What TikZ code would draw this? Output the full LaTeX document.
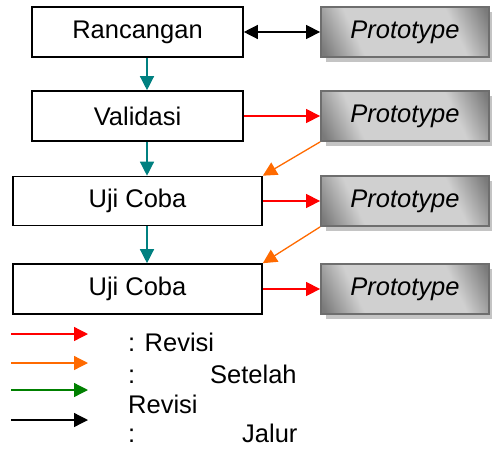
\documentclass[tikz,border=0pt]{standalone}
\usepackage{fontspec}
\setmainfont{Liberation Sans}
\usetikzlibrary{arrows.meta,shadows,calc}
\definecolor{flowteal}{HTML}{008080}
\definecolor{revred}{HTML}{FF0000}
\definecolor{revorange}{HTML}{FF6A00}
\definecolor{revgreen}{HTML}{008000}
\definecolor{protoedge}{HTML}{6E6E6E}
\definecolor{protodark}{HTML}{7A7A7A}
\definecolor{protolight}{HTML}{D0D0D0}
\definecolor{protoshadow}{HTML}{C4C4C4}
% metallic band: dark ends, wide light middle (220bp across)
\pgfdeclarehorizontalshading{protoshade}{220bp}{%
  color(0bp)=(protodark); color(28bp)=(protodark);
  color(64bp)=(protolight); color(156bp)=(protolight);
  color(192bp)=(protodark); color(220bp)=(protodark)}
\tikzset{
  stage/.style={draw=black, line width=1.6pt, fill=white, inner sep=0pt,
    font=\fontsize{25.5}{30}\selectfont},
  proto/.style={draw=protoedge, line width=1.8pt, inner sep=0pt,
    minimum width=168pt, minimum height=50pt,
    path picture={\node[inner sep=0pt, rotate=25]
      at (path picture bounding box.center) {\pgfuseshading{protoshade}};},
    drop shadow={shadow xshift=5pt, shadow yshift=-5pt, fill=protoshadow, opacity=1},
    font=\fontsize{25.5}{30}\selectfont\itshape},
  link/.style={line width=1.3pt, -{Triangle[length=14pt,width=14pt]}},
  legendtext/.style={anchor=base west, inner sep=0pt,
    font=\fontsize{25.5}{30}\selectfont}
}
\begin{document}
\begin{tikzpicture}[x=1pt,y=-1pt]
  \useasboundingbox (0,0) rectangle (492,450);

  % process stages
  \node[stage, minimum width=211pt, minimum height=50pt] (ran) at (137.5,32) {Rancangan};
  \node[stage, minimum width=211pt, minimum height=50pt] (val) at (137.5,116) {Validasi};
  \node[stage, minimum width=249pt, minimum height=49pt] (uji1) at (137.5,201) {Uji Coba};
  \node[stage, minimum width=249pt, minimum height=50pt] (uji2) at (137.5,289) {Uji Coba};

  % prototypes
  \node[proto] (p1) at (405,32) {Prototype};
  \node[proto] (p2) at (405,116) {Prototype};
  \node[proto] (p3) at (405,201) {Prototype};
  \node[proto] (p4) at (405,289) {Prototype};

  % main flow
  \coordinate (ax) at (147,0);
  \draw[link, flowteal] (ran.south -| ax) -- (val.north -| ax);
  \draw[link, flowteal] (val.south -| ax) -- (uji1.north -| ax);
  \draw[link, flowteal] (uji1.south -| ax) -- (uji2.north -| ax);

  % design <-> prototype
  \draw[line width=1.3pt, black, {Triangle[length=14pt,width=14pt]}-{Triangle[length=14pt,width=14pt]}]
    (ran.east) -- (p1.west);

  % revisions
  \draw[link, revred] (val.east) -- (p2.west);
  \draw[link, revred] (uji1.east) -- (p3.west);
  \draw[link, revred] (uji2.east) -- (p4.west);

  % after revision
  \draw[link, revorange] (p2.south west) -- (uji1.north east);
  \draw[link, revorange] (p3.south west) -- (uji2.north east);

  % legend
  \coordinate (l1a) at (11,334); \coordinate (l1b) at (88,334);
  \coordinate (l2a) at (11,363); \coordinate (l2b) at (88,363);
  \coordinate (l3a) at (11,390); \coordinate (l3b) at (88,390);
  \coordinate (l4a) at (11,420); \coordinate (l4b) at (88,420);
  \draw[link, revred] (l1a) -- (l1b);
  \draw[link, revorange] (l2a) -- (l2b);
  \draw[link, revgreen] (l3a) -- (l3b);
  \draw[link, black] (l4a) -- (l4b);

  \node[legendtext] (t1) at (128,351) {: Revisi};
  \node[legendtext] (t2a) at (128,383) {:};
  \node[legendtext] (t2b) at (210,383) {Setelah};
  \node[legendtext] (t3) at (128,413) {Revisi};
  \node[legendtext] (t4a) at (128,442) {:};
  \node[legendtext] (t4b) at (242,442) {Jalur};
\end{tikzpicture}
\end{document}
